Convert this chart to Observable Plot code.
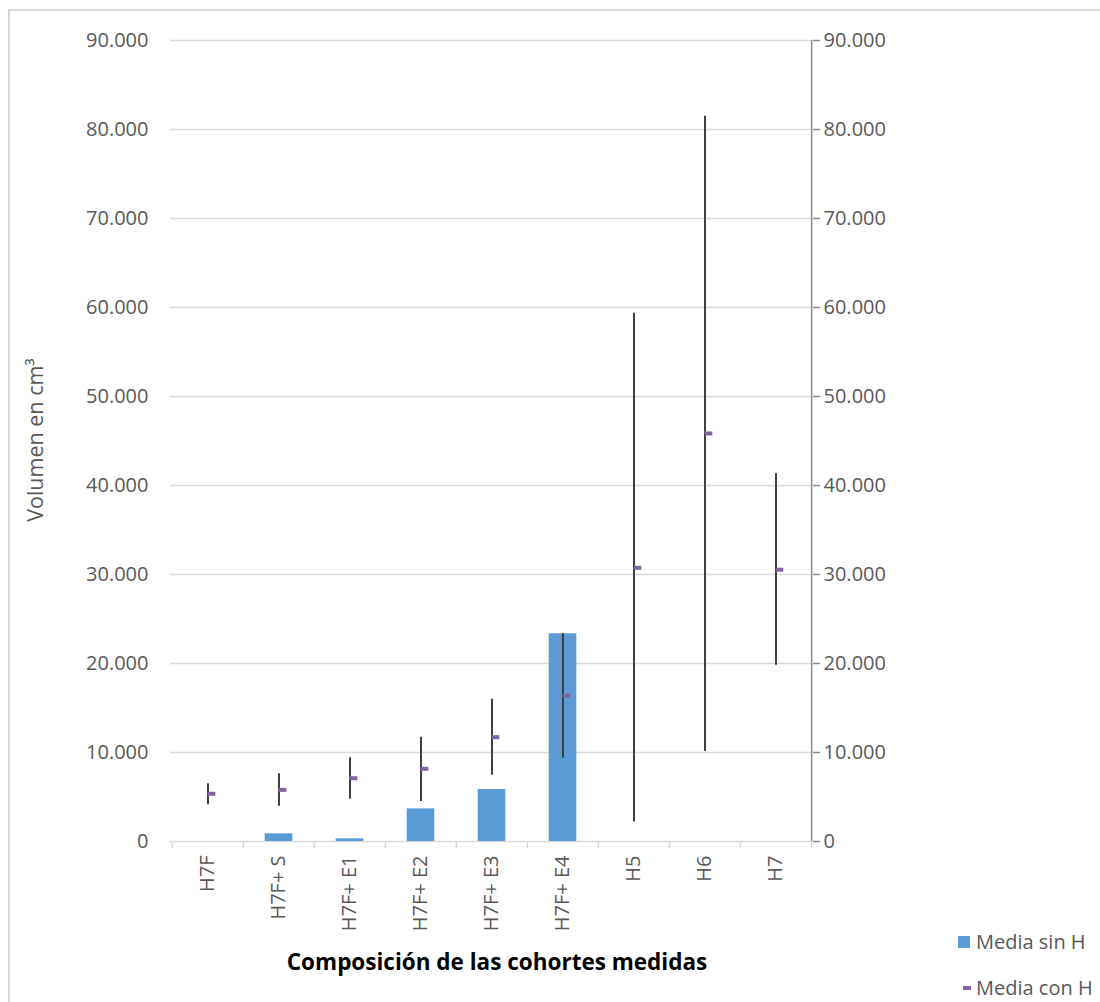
<!DOCTYPE html>
<html>
<head>
<meta charset="utf-8">
<script src="https://cdn.jsdelivr.net/npm/d3@7"></script>
<script src="https://cdn.jsdelivr.net/npm/@observablehq/plot@0.6"></script>
<style>
  html, body { margin: 0; padding: 0; background: #fff; }
  #wrap { position: relative; width: 1100px; height: 1002px; overflow: hidden; font-family: "Open Sans", sans-serif; }
  #border { position: absolute; left: 8px; top: 9px; width: 1200px; height: 1100px; border: 2px solid #d9d9d9; box-sizing: border-box; }
  #chart { position: absolute; left: 0; top: 0; }
  #ylabel { position: absolute; left: 35px; top: 440px; transform: translate(-50%, -50%) rotate(-90deg); font-size: 21.5px; color: #595959; white-space: nowrap; line-height: 26px; }
  #title { position: absolute; top: 946px; left: 197px; width: 600px; text-align: center; font-weight: bold; font-size: 22.5px; color: #000; line-height: 32px; }
  .leg { position: absolute; left: 958px; font-size: 20px; color: #595959; line-height: 24px; display: flex; align-items: center; white-space: nowrap; }
  .sw { display: inline-block; width: 12px; height: 12px; background: #5B9BD5; margin-right: 6px; }
  .dash { display: inline-block; width: 8px; height: 4px; background: #8064A2; margin-left: 5px; margin-right: 5px; }
</style>
</head>
<body>
<div id="wrap">
  <div id="border"></div>
  <div id="chart"></div>
  <div id="ylabel">Volumen en cm³</div>
  <div id="title">Composición de las cohortes medidas</div>
  <div class="leg" style="top:930px;"><span class="sw"></span>Media sin H</div>
  <div class="leg" style="top:976px;"><span class="dash"></span>Media con H</div>
</div>
<script>
// ---- data ----
const categories = ["H7F", "H7F+ S", "H7F+ E1", "H7F+ E2", "H7F+ E3", "H7F+ E4", "H5", "H6", "H7"];
const mediaSinH = [null, 860, 300, 3670, 5840, 23340, null, null, null];
const mediaConH = [5360, 5800, 7110, 8170, 11720, 16370, 30750, 45850, 30540];
const errLow = [4120, 3970, 4750, 4490, 7450, 9360, 2200, 10100, 19800];
const errHigh = [6480, 7600, 9400, 11720, 15990, 23340, 59340, 81500, 41330];
const yTicks = [0, 10000, 20000, 30000, 40000, 50000, 60000, 70000, 80000, 90000];

const rows = categories.map((c, i) => ({cat: c, sin: mediaSinH[i], con: mediaConH[i], lo: errLow[i], hi: errHigh[i]}));
const barRows = rows.filter(d => d.sin != null);

const W = 1100, H = 940, mL = 170, mR = 288, mT = 40, mB = 99;
const bw = (W - mL - mR) / categories.length;

const loc = d3.formatLocale({decimal: ",", thousands: ".", grouping: [3], currency: ["", ""]});
const fmt = loc.format(",d");

const grey = "#595959";
const lineGrey = "#d9d9d9";

const chart = Plot.plot({
  width: W, height: H,
  marginLeft: mL, marginRight: mR, marginTop: mT, marginBottom: mB,
  style: {fontFamily: "Open Sans", fontSize: "20px", color: grey, background: "transparent"},
  x: {type: "band", domain: categories, padding: 0},
  y: {domain: [0, 90000], ticks: yTicks},
  marks: [
    Plot.gridY(yTicks, {stroke: lineGrey, strokeOpacity: 1, strokeWidth: 1.5}),
    // category boundary ticks
    Plot.ruleX(categories, {x: d => d, y1: 0, y2: 0, dx: -bw / 2, insetBottom: -7, stroke: lineGrey, strokeWidth: 1.5}),
    Plot.ruleX([categories[categories.length - 1]], {x: d => d, y1: 0, y2: 0, dx: bw / 2, insetBottom: -7, stroke: lineGrey, strokeWidth: 1.5}),
    // right axis line
    Plot.ruleX([categories[categories.length - 1]], {x: d => d, dx: bw / 2, stroke: "#8c8c8c", strokeWidth: 1.5}),
    Plot.axisY({anchor: "left", ticks: yTicks, tickSize: 0, tickPadding: 22, tickFormat: fmt, label: null}),
    Plot.axisY({anchor: "right", ticks: yTicks, tickSize: 7, tickPadding: 4, tickFormat: fmt, label: null, stroke: "#8c8c8c", strokeWidth: 1.5}),
    Plot.axisX({tickSize: 0, tickPadding: 14, tickRotate: -90, label: null}),
    Plot.barY(barRows, {x: "cat", y: "sin", fill: "#5B9BD5", insetLeft: (bw - 28) / 2, insetRight: (bw - 28) / 2}),
    Plot.ruleX(rows, {x: "cat", y1: "lo", y2: "hi", stroke: "#404040", strokeWidth: 2}),
    Plot.tickY(rows, {x: "cat", y: "con", stroke: "#8064A2", strokeWidth: 4, insetLeft: bw / 2, insetRight: bw / 2 - 8})
  ]
});
document.getElementById("chart").appendChild(chart);
</script>
</body>
</html>
